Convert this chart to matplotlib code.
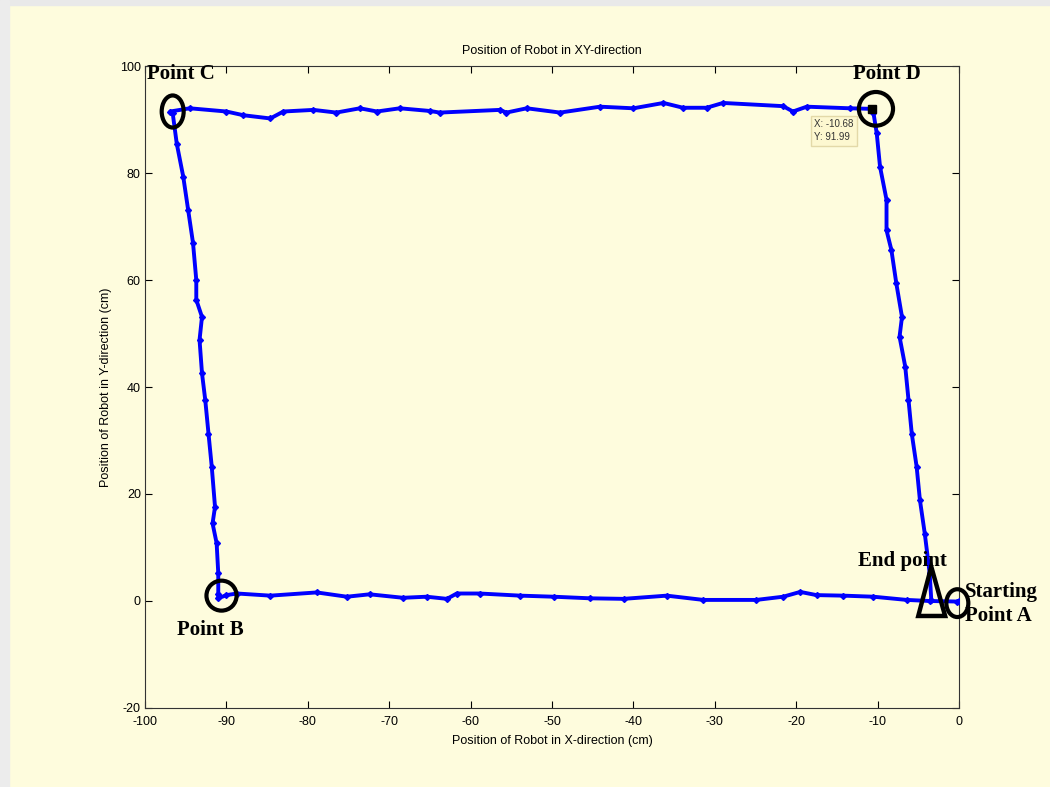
"""Robot XY trajectory with labelled corner points."""
import matplotlib
matplotlib.use("Agg")
import matplotlib.pyplot as plt
from matplotlib.patches import Ellipse, Polygon, Rectangle

BG = "#fefcdd"
SERIF = ["Liberation Serif", "DejaVu Serif"]

plt.rcParams.update({
    "font.family": ["Liberation Sans", "DejaVu Sans"],
    "font.size": 9,
    "axes.unicode_minus": False,
    "xtick.direction": "in",
    "ytick.direction": "in",
    "xtick.top": True,
    "ytick.right": True,
})

# ---- trajectory (A -> B -> C -> D -> end) ----
bottom_x = [0, -0.3, -3.6, -6.4, -10.5, -14.2, -17.5, -19.5, -21.6, -24.9, -31.4,
            -35.9, -41.2, -45.3, -49.8, -53.9, -58.9, -61.7, -62.9, -65.4, -68.3,
            -72.4, -75.2, -78.9, -84.6, -88.7, -90.0, -91.0]
bottom_y = [0, -0.1, 0.0, 0.2, 0.8, 1.0, 1.1, 1.7, 0.8, 0.2, 0.2,
            1.0, 0.4, 0.5, 0.8, 1.0, 1.4, 1.4, 0.4, 0.8, 0.6,
            1.25, 0.8, 1.6, 1.0, 1.4, 1.1, 0.5]

left_x = [-91.0, -91.0, -91.2, -91.7, -91.4, -91.8, -92.2, -92.6, -93.0, -93.3,
          -93.0, -93.7, -93.7, -94.1, -94.7, -95.3, -96.1, -96.6, -96.9]
left_y = [1.4, 5.2, 10.8, 14.5, 17.6, 25.1, 31.3, 37.6, 42.6, 48.8,
          53.1, 56.3, 60.0, 66.9, 73.1, 79.3, 85.5, 91.2, 91.5]

top_x = [-94.5, -90.0, -87.9, -84.6, -83.0, -79.3, -76.5, -73.6, -71.5, -68.7,
         -65.0, -63.8, -56.4, -55.6, -53.1, -49.0, -44.1, -40.0, -36.3, -33.9,
         -31.0, -29.0, -21.6, -20.4, -18.7, -13.4, -10.68]
top_y = [92.1, 91.5, 90.8, 90.2, 91.5, 91.8, 91.3, 92.1, 91.5, 92.1,
         91.6, 91.3, 91.8, 91.3, 92.1, 91.3, 92.4, 92.1, 93.1, 92.2,
         92.2, 93.1, 92.5, 91.5, 92.4, 92.1, 91.99]

right_x = [-10.5, -10.1, -9.7, -8.9, -8.9, -8.3, -7.7, -7.0, -7.3, -6.6,
           -6.2, -5.8, -5.2, -4.8, -4.2, -3.6, -3.4]
right_y = [91.2, 87.4, 81.2, 75.0, 69.3, 65.6, 59.4, 53.1, 49.4, 43.8,
           37.6, 31.3, 25.1, 18.9, 12.6, 5.2, 0.2]

path_x = bottom_x + left_x + top_x + right_x
path_y = bottom_y + left_y + top_y + right_y

# data tip
tip_x, tip_y = -10.68, 91.99

# ---- figure ----
fig = plt.figure(figsize=(10.5, 7.87), dpi=100, facecolor=BG)
fig.patches.append(Rectangle((0, 0.994), 1, 0.006, transform=fig.transFigure,
                             color="#e9e9e9", zorder=0))
fig.patches.append(Rectangle((0, 0), 0.009, 1, transform=fig.transFigure,
                             color="#ececec", zorder=0))
ax = fig.add_axes([0.1381, 0.1004, 0.7752, 0.8157], facecolor=BG)

ax.plot(path_x, path_y, "-", color="#0000ff", linewidth=2.8,
        marker="D", markersize=3, zorder=3)
ax.plot([tip_x], [tip_y], "s", color="black", markersize=6, zorder=5)

# circles round corner points
circles = [(-96.6, 91.5, 2.7, 6.0),   # C
           (-90.6, 1.0, 3.7, 5.6),    # B
           (-10.2, 92.0, 4.2, 6.3),   # D
           (-0.2, -0.4, 2.7, 5.2)]    # A
for cx, cy, w, h in circles:
    ax.add_patch(Ellipse((cx, cy), w, h, fill=False, edgecolor="black",
                         linewidth=3, zorder=6, clip_on=False))
ax.add_patch(Polygon([(-3.4, 6.4), (-5.0, -2.8), (-1.7, -2.8)], closed=True,
                     fill=False, edgecolor="black", linewidth=3.2,
                     joinstyle="miter", zorder=6, clip_on=False))

# data-tip box
ax.text(-17.8, 87.9, "X: -10.68\nY: 91.99", fontsize=7, color="#333333",
        va="center", ha="left", linespacing=1.4, zorder=7,
        bbox=dict(boxstyle="square,pad=0.35", facecolor="#fdf8d0",
                  edgecolor="#e3d9a8", linewidth=1))

lab = dict(fontsize=15, fontweight="bold", family=SERIF, color="black", zorder=8)
ax.text(-99.7, 98.5, "Point C", ha="left", va="center", **lab)
ax.text(-8.8, 98.5, "Point D", ha="center", va="center", **lab)
ax.text(-92.0, -5.4, "Point B", ha="center", va="center", **lab)
ax.text(-6.9, 7.5, "End point", ha="center", va="center", **lab)
ax.text(0.7, -0.6, "Starting\nPoint A", ha="left", va="center",
        linespacing=1.3, **lab)

ax.set_xlim(-100, 0)
ax.set_ylim(-20, 100)
ax.set_xticks(range(-100, 1, 10))
ax.set_yticks(range(-20, 101, 20))
ax.tick_params(length=5, width=0.8, labelsize=9)
ax.tick_params(axis="x", pad=5.5)
ax.tick_params(axis="y", pad=3)
for s in ax.spines.values():
    s.set_linewidth(0.8)
    s.set_color("#333333")

ax.set_title("Position of Robot in XY-direction", fontsize=9, pad=9)
ax.set_xlabel("Position of Robot in X-direction (cm)", fontsize=9, labelpad=5)
ax.set_ylabel("Position of Robot in Y-direction (cm)", fontsize=9, labelpad=6)

fig.savefig("out.png", dpi=100, facecolor=BG)
